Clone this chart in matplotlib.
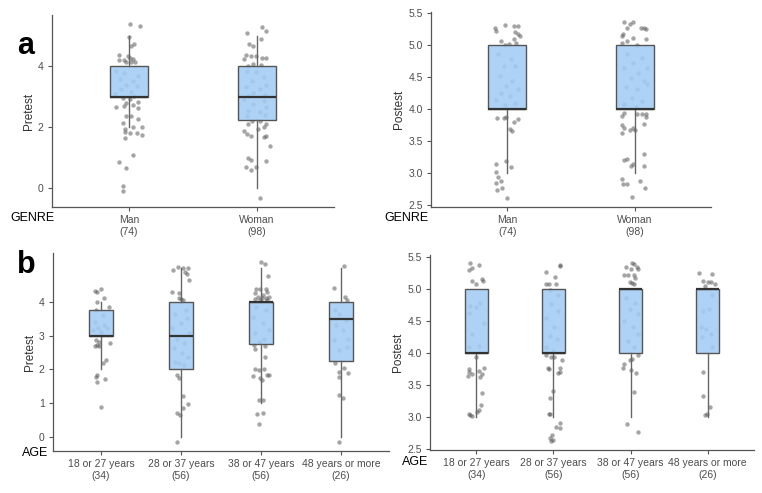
import numpy as np
import matplotlib
matplotlib.use("Agg")
import matplotlib.pyplot as plt
from matplotlib.ticker import FormatStrFormatter

plt.rcParams['font.family'] = ['Liberation Sans', 'DejaVu Sans']

# ---------------- categories ----------------
genre = ["Man", "Woman"]
genre_n = [74, 98]
age = ["18 or 27 years", "28 or 37 years", "38 or 47 years", "48 years or more"]
age_n = [34, 56, 56, 26]

# ---------------- box summaries (q1, median, q3, whisker low, whisker high) ----------------
genre_pre_q1 = [3, 2.25]
genre_pre_med = [3, 3]
genre_pre_q3 = [4, 4]
genre_pre_lo = [2, 0]
genre_pre_hi = [5, 5]

genre_post_q1 = [4, 4]
genre_post_med = [4, 4]
genre_post_q3 = [5, 5]
genre_post_lo = [3, 3]
genre_post_hi = [5, 5]

age_pre_q1 = [3, 2, 2.75, 2.25]
age_pre_med = [3, 3, 4, 3.5]
age_pre_q3 = [3.75, 4, 4, 4]
age_pre_lo = [2, 0, 1, 0]
age_pre_hi = [4, 5, 5, 5]

age_post_q1 = [4, 4, 4, 4]
age_post_med = [4, 4, 5, 5]
age_post_q3 = [5, 5, 5, 5]
age_post_lo = [3, 3, 3, 3]
age_post_hi = [5, 5, 5, 5]

# ---------------- jittered points (values and horizontal jitter) ----------------
man_pre = [5.39, 5.33, 4.97, 4.73, 4.68, 4.37, 4.33, 4.28, 4.24, 4.19, 4.22, 4.13, 4.13, 4.15,
           3.86, 3.78, 3.69, 3.58, 3.53, 3.39, 3.34, 3.26, 3.17, 3.09, 3.04,
           2.96, 2.93, 2.84, 2.80, 2.73, 2.66, 2.71, 2.63, 2.38, 2.38,
           2.14, 2.27, 2.01, 2.00, 1.95, 1.81, 1.80, 1.75, 1.84, 1.64,
           0.85, 1.09, 0.66, 0.07, -0.10]
man_pre_jit = [0.01, 0.09, 0.00, 0.04, 0.02, -0.08, -0.01, 0.01, 0.03, -0.08, -0.04, 0.05, -0.02, 0.02,
               -0.10, -0.04, 0.07, -0.07, 0.03, -0.02, 0.06, -0.06, 0.02, -0.11, 0.04,
               -0.05, 0.01, 0.07, -0.02, 0.03, -0.10, -0.04, 0.07, -0.02, 0.02,
               -0.05, 0.07, 0.03, 0.10, -0.03, 0.06, 0.01, 0.10, -0.03, -0.03,
               -0.08, 0.03, -0.02, -0.05, -0.05]

woman_pre = [5.30, 5.15, 5.08, 4.90, 4.73, 4.68, 4.37, 4.35, 4.33, 4.24, 4.26, 4.27, 4.08, 4.04, 4.02,
             3.86, 3.80, 3.64, 3.53, 3.39, 3.31, 3.26, 3.13, 3.06, 3.04,
             2.93, 2.87, 2.77, 2.66, 2.55, 2.49, 2.38, 2.40,
             2.22, 2.22, 2.11, 2.11, 2.00, 1.95, 1.89, 1.78, 1.73, 1.70,
             1.67, 1.40, 0.98, 0.94, 0.91, 0.69, 0.69, 0.61, -0.32]
woman_pre_jit = [0.04, 0.07, -0.08, 0.03, -0.06, -0.03, -0.09, -0.05, -0.01, -0.10, 0.04, 0.07, -0.03, 0.03, -0.07,
                 -0.08, -0.01, 0.05, -0.04, 0.07, -0.09, 0.02, -0.03, 0.06, -0.07,
                 -0.10, 0.05, -0.03, 0.07, -0.07, 0.02, -0.08, 0.06,
                 0.02, -0.04, 0.07, -0.07, 0.05, 0.01, -0.10, -0.08, 0.07, -0.05,
                 0.05, 0.10, -0.07, -0.05, 0.07, -0.09, -0.01, -0.05, 0.02]

man_post = [5.31, 5.30, 5.30, 5.27, 5.22, 5.20, 5.17, 5.15, 5.07, 5.09, 5.04, 5.02, 5.01,
            4.86, 4.78, 4.67, 4.67, 4.52, 4.44, 4.36, 4.31, 4.26, 4.21, 4.15, 4.10, 4.06,
            3.86, 3.86, 3.87, 3.80, 3.84, 3.69, 3.66, 3.19, 3.09, 3.15, 3.01, 2.94, 2.88, 2.85,
            2.74, 2.76, 2.61]
man_post_jit = [-0.02, 0.05, 0.08, -0.10, -0.09, 0.06, 0.08, 0.10, -0.05, 0.05, 0.07, 0.01, -0.02,
                -0.07, 0.03, -0.03, 0.06, -0.06, 0.04, -0.01, 0.08, -0.05, 0.02, -0.09, 0.06, -0.02,
                -0.08, -0.03, -0.01, 0.05, 0.08, 0.02, 0.04, -0.01, 0.03, -0.09, -0.09, -0.07, -0.05, -0.09,
                -0.08, -0.04, 0.00]

woman_post = [5.36, 5.33, 5.36, 5.27, 5.17, 5.14, 5.12, 5.27, 5.26, 5.27, 5.10, 5.06, 5.01, 5.04,
              4.86, 4.80, 4.73, 4.65, 4.65, 4.57, 4.49, 4.44, 4.35, 4.31, 4.39, 4.18, 4.13, 4.08, 4.03,
              3.94, 3.93, 3.93, 3.93, 3.89, 3.87, 3.77, 3.76, 3.70, 3.68,
              3.63, 3.71, 3.68, 3.30, 3.20, 3.22, 3.11, 3.14, 3.11, 2.91,
              2.83, 2.83, 2.88, 2.76, 2.62]
woman_post_jit = [-0.08, -0.04, -0.01, -0.06, -0.09, -0.10, -0.01, 0.07, 0.09, 0.05, 0.09, -0.06, 0.02, -0.10,
                  -0.06, 0.06, -0.01, 0.10, -0.08, 0.03, -0.03, 0.07, -0.07, 0.02, 0.10, -0.02, 0.06, -0.08, 0.01,
                  -0.08, 0.06, 0.09, 0.02, -0.10, 0.09, 0.07, -0.10, -0.08, -0.04,
                  -0.10, -0.01, 0.00, 0.07, -0.08, -0.06, -0.03, -0.01, 0.07, -0.10,
                  -0.09, -0.06, 0.04, 0.08, -0.02]

a1827_pre = [4.30, 4.37, 4.33, 4.10, 4.00, 3.85, 3.75, 3.60, 3.41, 3.31,
             3.21, 3.21, 3.16, 3.11, 2.86, 2.81, 2.77, 2.72, 2.69, 2.70,
             2.27, 2.17, 1.83, 1.78, 1.71, 1.63, 0.87]
a1827_pre_jit = [-0.05, 0.00, -0.07, 0.04, -0.05, 0.10, -0.06, 0.02, -0.08, 0.04,
                 -0.04, 0.08, -0.10, 0.00, -0.06, -0.02, 0.11, -0.05, -0.03, -0.07,
                 0.06, 0.03, -0.05, -0.06, 0.05, -0.05, 0.00]
a2837_pre = [5.04, 4.99, 4.99, 4.94, 4.89, 4.84, 4.66, 4.27, 4.28, 4.10, 4.07, 4.05,
             3.75, 3.65, 3.51, 3.36, 3.21, 3.08, 2.91, 2.77, 2.62, 2.47, 2.37, 2.22, 2.12, 2.17,
             1.83, 1.73, 1.20, 0.97, 0.84, 0.71, 0.64, -0.16]
a2837_pre_jit = [-0.04, 0.02, 0.09, -0.10, 0.05, 0.08, 0.10, -0.02, -0.11, -0.03, 0.00, 0.02,
                 0.06, -0.07, 0.08, 0.00, -0.11, 0.10, -0.05, 0.04, -0.09, 0.01, 0.09, -0.07, 0.04, -0.02,
                 -0.05, -0.03, 0.03, 0.09, 0.02, -0.05, -0.01, -0.05]
a3847_pre = [5.18, 5.12, 4.76, 4.37, 4.37, 4.37, 4.30, 4.25, 4.20, 4.15, 4.15, 4.10, 4.12, 4.07, 4.05, 4.05,
             3.85, 3.75, 3.56, 3.36, 3.16, 3.06, 2.91, 2.81,
             2.72, 2.70, 2.59, 2.35, 2.02, 1.99, 2.02, 1.80, 1.83, 1.82,
             1.73, 1.68, 1.09, 1.09, 0.67, 0.69, 0.38]
a3847_pre_jit = [0.00, 0.05, 0.09, -0.06, -0.01, 0.06, 0.08, -0.07, 0.03, -0.04, 0.10, 0.01, 0.06, -0.08, -0.01, 0.08,
                 -0.06, 0.06, -0.10, 0.02, 0.10, -0.07, 0.04, -0.02,
                 -0.09, 0.05, -0.08, 0.05, -0.07, -0.03, 0.04, -0.10, 0.07, 0.10,
                 -0.01, 0.01, -0.03, 0.03, -0.05, 0.03, -0.02]
a48_pre = [5.07, 4.40, 4.15, 4.05, 3.75, 3.65, 3.46, 3.31, 3.16, 2.91, 2.88, 2.67, 2.57,
           2.17, 2.04, 1.93, 1.88, 1.78, 1.23, 1.14, -0.15]
a48_pre_jit = [0.04, -0.09, 0.05, 0.08, -0.08, -0.02, 0.06, -0.06, 0.02, 0.09, -0.09, 0.07, -0.02,
               -0.07, 0.04, -0.02, 0.09, -0.02, -0.02, 0.03, -0.03]

a1827_post = [5.40, 5.33, 5.37, 5.30, 5.15, 5.13, 5.12, 5.07,
              4.78, 4.73, 4.71, 4.63, 4.47, 4.29, 4.11, 4.09,
              3.94, 3.75, 3.70, 3.67, 3.72, 3.76, 3.67, 3.62, 3.63, 3.37, 3.18, 3.08, 3.10, 3.04, 3.01, 3.03]
a1827_post_jit = [-0.08, -0.06, 0.04, -0.10, 0.07, 0.09, -0.06, -0.01,
                  0.05, -0.08, -0.01, -0.10, 0.10, -0.06, 0.03, -0.10,
                  -0.01, -0.10, -0.09, -0.06, 0.04, 0.10, 0.07, 0.05, -0.11, 0.08, 0.06, 0.01, 0.03, -0.09, -0.06, -0.08]
a2837_post = [5.36, 5.37, 5.26, 5.19, 5.07, 5.08, 5.08, 4.99,
              4.91, 4.76, 4.66, 4.55, 4.40, 4.27, 4.22, 4.09, 4.03,
              3.96, 3.93, 3.94, 3.89, 3.76, 3.74, 3.77, 3.70, 3.68, 3.41,
              3.29, 3.05, 3.04, 2.91, 2.84, 2.83, 2.71, 2.66, 2.62, 2.64]
a2837_post_jit = [0.08, 0.09, -0.09, 0.02, -0.09, -0.06, 0.03, -0.04,
                  0.06, -0.03, 0.06, -0.10, 0.01, -0.05, 0.05, -0.10, -0.01,
                  -0.10, -0.03, 0.01, 0.11, -0.07, -0.06, 0.08, 0.09, 0.06, 0.00,
                  -0.05, -0.06, -0.05, 0.08, 0.03, 0.09, -0.02, -0.05, -0.03, -0.01]
a3847_post = [5.40, 5.39, 5.34, 5.31, 5.31, 5.34, 5.21, 5.21, 5.21, 5.17, 5.10, 5.09, 5.07,
              4.86, 4.78, 4.68, 4.60, 4.50, 4.40, 4.29, 4.19, 4.09,
              3.88, 3.90, 3.96, 3.83, 3.76, 3.73, 3.68, 3.39, 2.88, 2.76]
a3847_post_jit = [0.02, 0.04, 0.08, 0.10, 0.00, -0.06, -0.09, -0.03, 0.04, 0.06, -0.01, 0.02, 0.04,
                  -0.06, 0.06, -0.01, 0.10, -0.08, 0.03, 0.09, -0.03, 0.05,
                  -0.01, 0.02, 0.09, -0.08, -0.10, 0.01, 0.07, 0.04, -0.04, 0.09]
a48_post = [5.25, 5.24, 5.13, 5.10, 5.10, 5.08, 5.04,
            4.91, 4.66, 4.68, 4.40, 4.37, 4.29, 4.24, 4.09,
            3.70, 3.32, 3.15, 3.04, 3.02]
a48_post_jit = [-0.11, 0.06, -0.06, 0.00, 0.04, 0.09, -0.04,
                0.06, -0.06, 0.02, -0.09, -0.02, 0.04, -0.08, 0.06,
                -0.06, -0.06, 0.03, -0.01, -0.03]

# ---------------- styling ----------------
BOX_FACE = (0.64, 0.80, 0.96, 0.88)
EDGE = "#555555"
TICK_COL = "#4d4d4d"


def make_stats(q1, med, q3, lo, hi):
    return [dict(q1=a, med=b, q3=c, whislo=d, whishi=e, fliers=[])
            for a, b, c, d, e in zip(q1, med, q3, lo, hi)]


def draw_panel(ax, stats, groups, jitters, labels, counts, ylim, yticks, ylabel, fmt=None):
    # points first, box drawn over them
    for i, (vals, jit) in enumerate(zip(groups, jitters)):
        ax.scatter(np.array(jit) + i + 1, vals, s=10, color="#4d4d4d", alpha=0.5,
                   linewidths=0, zorder=1)
    ax.bxp(stats, positions=range(1, len(stats) + 1), widths=0.3, patch_artist=True,
           showfliers=False, showcaps=False,
           boxprops=dict(facecolor=BOX_FACE, edgecolor=EDGE, linewidth=1.0),
           whiskerprops=dict(color="#666666", linewidth=1.0),
           medianprops=dict(color="#333333", linewidth=1.6),
           zorder=2)
    ax.set_xlim(0.4, len(stats) + 0.6)
    ax.set_ylim(*ylim)
    ax.set_yticks(yticks)
    if fmt:
        ax.yaxis.set_major_formatter(FormatStrFormatter(fmt))
    ax.set_xticks(range(1, len(stats) + 1))
    ax.set_xticklabels([f"{l}\n({n})" for l, n in zip(labels, counts)], linespacing=1.25)
    ax.set_ylabel(ylabel, fontsize=8.5, color="#333333", labelpad=2)
    for s in ["top", "right"]:
        ax.spines[s].set_visible(False)
    for s in ["left", "bottom"]:
        ax.spines[s].set_color(EDGE)
        ax.spines[s].set_linewidth(0.9)
    ax.tick_params(axis="both", length=3, width=0.8, color=EDGE, labelcolor=TICK_COL,
                   labelsize=7.5, pad=3)


W, H = 762, 493
fig = plt.figure(figsize=(W / 100, H / 100), dpi=100)


def box_axes(left, top, right, bottom):
    return fig.add_axes([left / W, 1 - bottom / H, (right - left) / W, (bottom - top) / H])


ax1 = box_axes(52, 15, 334, 207)
ax2 = box_axes(431, 12, 711, 207)
ax3 = box_axes(53, 253, 389, 451)
ax4 = box_axes(430, 255, 754, 450)

draw_panel(ax1, make_stats(genre_pre_q1, genre_pre_med, genre_pre_q3, genre_pre_lo, genre_pre_hi),
           [man_pre, woman_pre], [man_pre_jit, woman_pre_jit], genre, genre_n,
           (-0.61, 5.68), [0, 2, 4], "Pretest")
draw_panel(ax2, make_stats(genre_post_q1, genre_post_med, genre_post_q3, genre_post_lo, genre_post_hi),
           [man_post, woman_post], [man_post_jit, woman_post_jit], genre, genre_n,
           (2.47, 5.52), [2.5, 3.0, 3.5, 4.0, 4.5, 5.0, 5.5], "Postest", "%.1f")
draw_panel(ax3, make_stats(age_pre_q1, age_pre_med, age_pre_q3, age_pre_lo, age_pre_hi),
           [a1827_pre, a2837_pre, a3847_pre, a48_pre],
           [a1827_pre_jit, a2837_pre_jit, a3847_pre_jit, a48_pre_jit], age, age_n,
           (-0.43, 5.45), [0, 1, 2, 3, 4], "Pretest")
draw_panel(ax4, make_stats(age_post_q1, age_post_med, age_post_q3, age_post_lo, age_post_hi),
           [a1827_post, a2837_post, a3847_post, a48_post],
           [a1827_post_jit, a2837_post_jit, a3847_post_jit, a48_post_jit], age, age_n,
           (2.48, 5.53), [2.5, 3.0, 3.5, 4.0, 4.5, 5.0, 5.5], "Postest", "%.1f")

# panel letters and group titles
fig.text(17 / W, 1 - 54 / H, "a", fontsize=22, fontweight="bold", va="baseline")
fig.text(17 / W, 1 - 273 / H, "b", fontsize=22, fontweight="bold", va="baseline")
fig.text(10 / W, 1 - 218 / H, "GENRE", fontsize=9, va="center")
fig.text(384 / W, 1 - 218 / H, "GENRE", fontsize=9, va="center")
fig.text(22 / W, 1 - 453 / H, "AGE", fontsize=9, va="center")
fig.text(402 / W, 1 - 462 / H, "AGE", fontsize=9, va="center")

fig.savefig("out.png", dpi=100)
